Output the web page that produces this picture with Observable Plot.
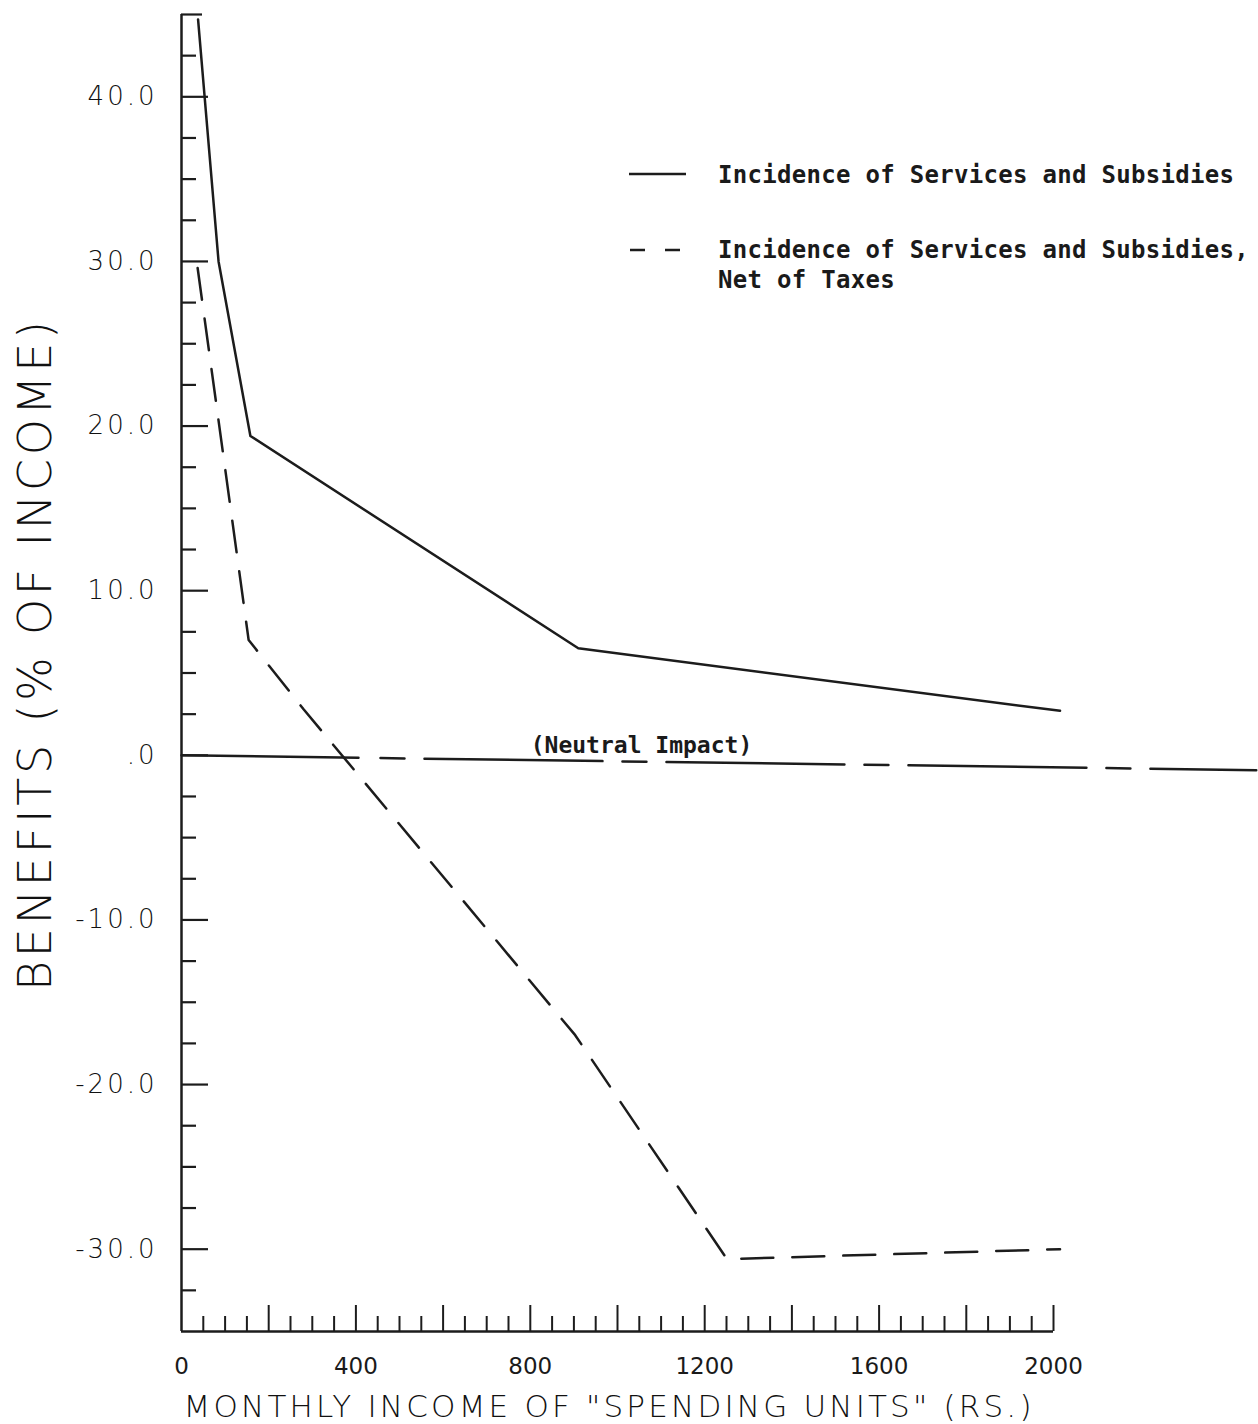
<!DOCTYPE html>
<html><head><meta charset="utf-8">
<script src="https://cdn.jsdelivr.net/npm/d3@7"></script>
<script src="https://cdn.jsdelivr.net/npm/@observablehq/plot@0.6"></script>
<style>
body{margin:0;background:#fff}
#chart{position:relative;width:1258px;height:1424px}
#chart svg{display:block}
.legend{position:absolute;font-family:"DejaVu Sans Mono",monospace;font-weight:bold;font-size:24px;line-height:30px;color:#1a1a1a;white-space:pre;letter-spacing:0.3px}
.sw{position:absolute}
</style>
</head><body><div id="chart"></div>
<script>
// Series data
const solidIncome  = [38, 85, 158, 910, 2015];
const solidBenefit = [44.7, 30.0, 19.4, 6.5, 2.7];
const netIncome    = [37, 154, 280, 903, 1251, 2015];
const netBenefit   = [29.6, 7.0, 2.8, -17.0, -30.6, -30.0];
const neutralIncome  = [0, 2465];
const neutralBenefit = [0, -0.9];
// Tick values and labels
const yTickValues = [40, 30, 20, 10, 0, -10, -20, -30];
const yTickLabels = ["40.0", "30.0", "20.0", "10.0", ".0", "-10.0", "-20.0", "-30.0"];
const xTickValues = [0, 400, 800, 1200, 1600, 2000];
const xTickLabels = ["0", "400", "800", "1200", "1600", "2000"];
const legendLabels = ["Incidence of Services and Subsidies", "Incidence of Services and Subsidies,\nNet of Taxes"];
const neutralLabel = "(Neutral Impact)";
const neutralLabelIncome = 1055;
const xTitle = 'MONTHLY INCOME OF "SPENDING UNITS" (RS.)';
const yTitle = "BENEFITS (% OF INCOME)";

const solid = solidIncome.map((x, i) => ({x, y: solidBenefit[i]}));
const net = netIncome.map((x, i) => ({x, y: netBenefit[i]}));
const neutral = neutralIncome.map((x, i) => ({x, y: neutralBenefit[i]}));
const yTicks = yTickValues.map((v, i) => ({v, label: yTickLabels[i]}));
const xTicks = xTickValues.map((v, i) => ({v, label: xTickLabels[i]}));

const W = 1258, H = 1424, mL = 181, mR = 205, mT = 14, mB = 93;
const frameW = W - mL - mR, frameH = H - mT - mB;
const yMajor = d3.range(-30, 41, 10);
const yMinor = d3.range(-32.5, 43, 2.5).filter(v => Math.abs(v % 10) > 0.01);
const xMajor = d3.range(200, 2001, 200);
const xMinor = d3.range(50, 2000, 50).filter(v => v % 200 !== 0);
const ink = "#1c1c1c";

const svg = Plot.plot({
  width: W, height: H,
  marginLeft: mL, marginRight: mR, marginTop: mT, marginBottom: mB,
  x: {domain: [0, 2000], axis: null},
  y: {domain: [-35, 45], axis: null},
  marks: [
    // axes lines
    Plot.ruleX([0], {stroke: ink, strokeWidth: 2.5}),
    Plot.ruleY([-35], {stroke: ink, strokeWidth: 2.5}),
    // y ticks (inside)
    Plot.tickY(yMajor, {y: d => d, stroke: ink, strokeWidth: 2.2, insetRight: frameW - 27}),
    Plot.tickY(yMinor, {y: d => d, stroke: ink, strokeWidth: 2.2, insetRight: frameW - 15}),
    Plot.tickY([45], {y: d => d, stroke: ink, strokeWidth: 2.2, insetRight: frameW - 21}),
    // x ticks (inside)
    Plot.tickX(xMajor, {x: d => d, stroke: ink, strokeWidth: 2, insetTop: frameH - 26}),
    Plot.tickX(xMinor, {x: d => d, stroke: ink, strokeWidth: 2, insetTop: frameH - 15}),
    // tick labels
    Plot.text(yTicks, {x: 0, y: "v", text: "label", dx: -24, textAnchor: "end",
      fontFamily: "'DejaVu Sans'", fontWeight: 200, fontSize: 26, fill: "#111"}),
    Plot.text(xTicks, {x: "v", y: -35, text: "label", dy: 35,
      fontFamily: "'DejaVu Sans'", fontSize: 23, fill: "#1a1a1a"}),
    // titles
    Plot.text([yTitle], {frameAnchor: "left", textAnchor: "middle", lineAnchor: "middle", dx: -145, dy: -17, rotate: -90,
      fontFamily: "'DejaVu Sans'", fontWeight: 200, fontSize: 46, fill: "#111"}),
    Plot.text([xTitle], {frameAnchor: "bottom-left", textAnchor: "start", lineAnchor: "middle", dx: 2, dy: 76,
      fontFamily: "'DejaVu Sans'", fontWeight: 200, fontSize: 31, fill: "#111"}),
    // neutral line
    Plot.line(neutral, {x: "x", y: "y", stroke: ink, strokeWidth: 2.5,
      strokeDasharray: "177,22,24,20,178,20,24,20,178,20,24,20,178,20,24,20,178,20"}),
    Plot.text([neutralLabel], {x: neutralLabelIncome, y: 0, dy: -10,
      fontFamily: "'DejaVu Sans Mono'", fontWeight: "bold", fontSize: 23, fill: "#1a1a1a"}),
    // series
    Plot.line(solid, {x: "x", y: "y", stroke: ink, strokeWidth: 2.5}),
    Plot.line(net, {x: "x", y: "y", stroke: ink, strokeWidth: 2.5, strokeDasharray: "32,19"})
  ]
});

const root = document.getElementById("chart");
root.appendChild(svg);
const texts = d3.select(svg).selectAll("text");
texts.filter(function() { return this.textContent === yTitle; })
  .attr("textLength", 670).attr("lengthAdjust", "spacing");
texts.filter(function() { return this.textContent === xTitle; })
  .attr("textLength", 848).attr("lengthAdjust", "spacing");
texts.filter(function() { return yTickLabels.includes(this.textContent); })
  .style("letter-spacing", "3px");

// legend
function addSwatch(left, top, dash) {
  const s = d3.select(root).append("svg").attr("class", "sw")
    .style("left", left + "px").style("top", top + "px")
    .attr("width", 60).attr("height", 6);
  s.append("line").attr("x1", 0).attr("x2", 57).attr("y1", 3).attr("y2", 3)
    .attr("stroke", ink).attr("stroke-width", 2.5).attr("stroke-dasharray", dash);
}
addSwatch(629, 171, null);
addSwatch(630, 247, "15,20");
d3.select(root).append("div").attr("class", "legend").style("left", "718px").style("top", "160px").text(legendLabels[0]);
d3.select(root).append("div").attr("class", "legend").style("left", "718px").style("top", "235px").text(legendLabels[1]);
</script>
</body></html>
